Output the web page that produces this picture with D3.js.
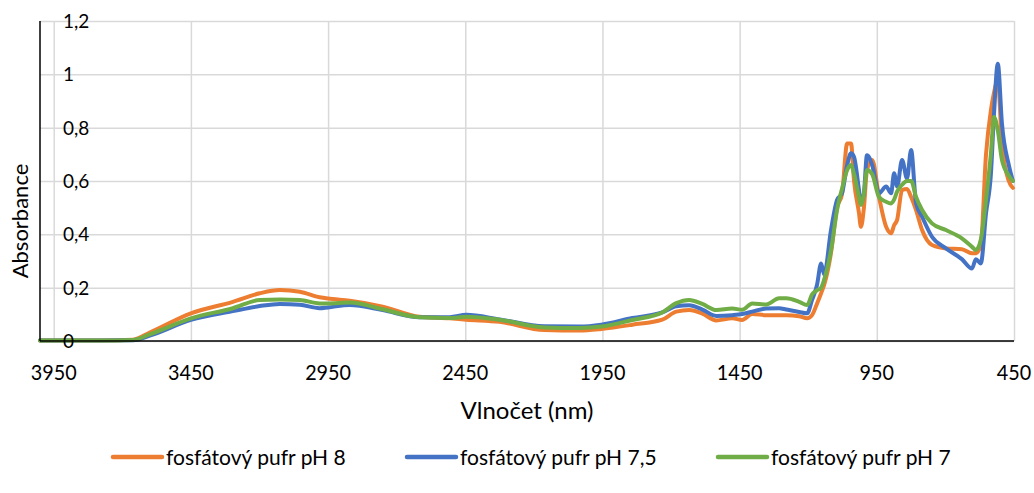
<!DOCTYPE html>
<html>
<head>
<meta charset="utf-8">
<script src="https://cdn.jsdelivr.net/npm/d3@7"></script>
<style>
  html, body { margin: 0; padding: 0; background: #fff; }
  svg { display: block; font-family: Lato, "Open Sans", sans-serif; }
</style>
</head>
<body>
<svg id="chart" width="1034" height="493"></svg>
<script>
// Wavenumber grid (cm-1, shown as "nm" on the axis title)
const wavenumbers = [
  4000, 3782, 3661, 3600, 3450, 3297, 3199, 3126, 3053, 2981, 2951, 2871, 2751, 2617,
  2507, 2446, 2325, 2162, 2034, 1954, 1841, 1732, 1681, 1634, 1586, 1535, 1477, 1441,
  1404, 1353, 1306, 1280, 1233, 1204, 1186, 1168, 1153, 1142, 1117, 1095, 1077, 1058,
  1044, 1033, 1015, 1008, 997, 986, 967, 942, 916, 898, 887, 876, 858, 840, 825, 807,
  785, 749, 698, 640, 603, 589, 571, 552, 534, 523, 509, 494, 469, 454
];

const phosphate_pH8 = [
  0.002, 0.002, 0.005, 0.032, 0.104, 0.147, 0.179, 0.191, 0.185, 0.164, 0.159, 0.151, 0.129, 0.091,
  0.085, 0.080, 0.072, 0.041, 0.039, 0.045, 0.061, 0.080, 0.110, 0.116, 0.103, 0.077, 0.085, 0.079,
  0.101, 0.097, 0.097, 0.097, 0.093, 0.085, 0.097, 0.140, 0.179, 0.210, 0.330, 0.500, 0.550, 0.741,
  0.741, 0.600, 0.480, 0.428, 0.500, 0.640, 0.679, 0.540, 0.428, 0.404, 0.434, 0.454, 0.566, 0.570, 0.540, 0.491,
  0.416, 0.360, 0.347, 0.344, 0.329, 0.329, 0.360, 0.700, 0.866, 0.930, 0.979, 0.741, 0.600, 0.574
];

const phosphate_pH75 = [
  0.002, 0.002, 0.003, 0.020, 0.079, 0.112, 0.131, 0.139, 0.136, 0.123, 0.126, 0.135, 0.116, 0.089,
  0.089, 0.098, 0.081, 0.055, 0.054, 0.061, 0.086, 0.107, 0.130, 0.134, 0.118, 0.094, 0.097, 0.101,
  0.110, 0.122, 0.123, 0.118, 0.109, 0.104, 0.154, 0.210, 0.291, 0.250, 0.416, 0.529, 0.554, 0.660,
  0.704, 0.690, 0.566, 0.516, 0.554, 0.697, 0.660, 0.554, 0.579, 0.554, 0.629, 0.580, 0.679, 0.610, 0.716, 0.516,
  0.466, 0.391, 0.347, 0.307, 0.272, 0.307, 0.291, 0.479, 0.629, 0.850, 1.040, 0.816, 0.660, 0.600
];

const phosphate_pH7 = [
  0.002, 0.002, 0.004, 0.025, 0.085, 0.123, 0.154, 0.156, 0.154, 0.141, 0.141, 0.144, 0.119, 0.089,
  0.086, 0.091, 0.080, 0.051, 0.049, 0.054, 0.079, 0.107, 0.142, 0.154, 0.139, 0.116, 0.122, 0.117,
  0.141, 0.137, 0.160, 0.160, 0.147, 0.135, 0.175, 0.190, 0.200, 0.230, 0.340, 0.491, 0.570, 0.641,
  0.660, 0.626, 0.540, 0.510, 0.554, 0.641, 0.626, 0.540, 0.522, 0.516, 0.530, 0.560, 0.586, 0.600, 0.600, 0.540,
  0.491, 0.441, 0.416, 0.385, 0.353, 0.341, 0.380, 0.529, 0.704, 0.840, 0.790, 0.679, 0.620, 0.600
];

const seriesNames = ["fosfátový pufr pH 8", "fosfátový pufr pH 7,5", "fosfátový pufr pH 7"];
const seriesColors = ["#ED7D31", "#4472C4", "#70AD47"];
const xTicks = [3950, 3450, 2950, 2450, 1950, 1450, 950, 450];
const yTicks = [0, 0.2, 0.4, 0.6, 0.8, 1, 1.2];
const xTitle = "Vlnočet (nm)";
const yTitle = "Absorbance";

const svg = d3.select("#chart");
const plot = { left: 40, right: 1014, top: 21, bottom: 341 };

const x = d3.scaleLinear().domain([4000, 450]).range([plot.left, plot.right]);
const y = d3.scaleLinear().domain([0, 1.2]).range([plot.bottom, plot.top]);
const fmt = v => String(+v.toFixed(1)).replace(".", ",");

// gridlines
svg.append("g")
  .attr("transform", `translate(0,${plot.bottom})`)
  .call(d3.axisBottom(x).tickValues(xTicks).tickSize(-(plot.bottom - plot.top)).tickFormat(""))
  .call(g => g.select(".domain").remove())
  .call(g => g.selectAll("line").attr("stroke", "#D9D9D9").attr("stroke-width", 1.5));

svg.append("g")
  .attr("transform", `translate(${plot.left},0)`)
  .call(d3.axisRight(y).tickValues(yTicks).tickSize(plot.right - plot.left).tickFormat(""))
  .call(g => g.select(".domain").remove())
  .call(g => g.selectAll("line").attr("stroke", "#D9D9D9").attr("stroke-width", 1.5));

// series
const series = [phosphate_pH8, phosphate_pH75, phosphate_pH7];
const line = d3.line()
  .x(d => x(d[0]))
  .y(d => y(d[1]))
  .curve(d3.curveMonotoneX);

series.forEach((vals, i) => {
  const pts = wavenumbers.map((w, k) => [w, vals[k]]);
  svg.append("path")
    .datum(pts)
    .attr("fill", "none")
    .attr("stroke", seriesColors[i])
    .attr("stroke-width", 4)
    .attr("stroke-linejoin", "round")
    .attr("stroke-linecap", "round")
    .attr("d", line);
});

// axis lines
svg.append("line")
  .attr("x1", plot.left).attr("x2", plot.right)
  .attr("y1", plot.bottom).attr("y2", plot.bottom)
  .attr("stroke", "#000").attr("stroke-width", 1.5);
svg.append("line")
  .attr("x1", plot.left).attr("x2", plot.left)
  .attr("y1", plot.top).attr("y2", plot.bottom)
  .attr("stroke", "#000").attr("stroke-width", 1.5);

// y tick labels (drawn inside the plot, left aligned)
svg.append("g").selectAll("text")
  .data(yTicks)
  .join("text")
  .attr("x", 63)
  .attr("y", d => y(d))
  .attr("dy", "0.36em")
  .attr("font-size", 19)
  .attr("fill", "#000")
  .text(fmt);

// x tick labels
svg.append("g").selectAll("text")
  .data(xTicks)
  .join("text")
  .attr("transform", d => `translate(${x(d)},${380}) scale(0.9,1)`)
  .attr("text-anchor", "middle")
  .attr("font-size", 22)
  .attr("fill", "#000")
  .text(d => d);

// axis titles
svg.append("text")
  .attr("x", 527).attr("y", 419)
  .attr("text-anchor", "middle")
  .attr("font-size", 24)
  .attr("fill", "#000")
  .text(xTitle);

svg.append("text")
  .attr("transform", `translate(28,221) rotate(-90)`)
  .attr("text-anchor", "middle")
  .attr("font-size", 22)
  .attr("fill", "#000")
  .text(yTitle);

// legend
const legendX = [113, 407, 718];
const legend = svg.append("g");
seriesNames.forEach((name, i) => {
  legend.append("line")
    .attr("x1", legendX[i]).attr("x2", legendX[i] + 49)
    .attr("y1", 457).attr("y2", 457)
    .attr("stroke", seriesColors[i]).attr("stroke-width", 4.5)
    .attr("stroke-linecap", "round");
  legend.append("text")
    .attr("x", legendX[i] + 53).attr("y", 457)
    .attr("dy", "0.36em")
    .attr("font-size", 21)
    .attr("fill", "#000")
    .text(name);
});
</script>
</body>
</html>
